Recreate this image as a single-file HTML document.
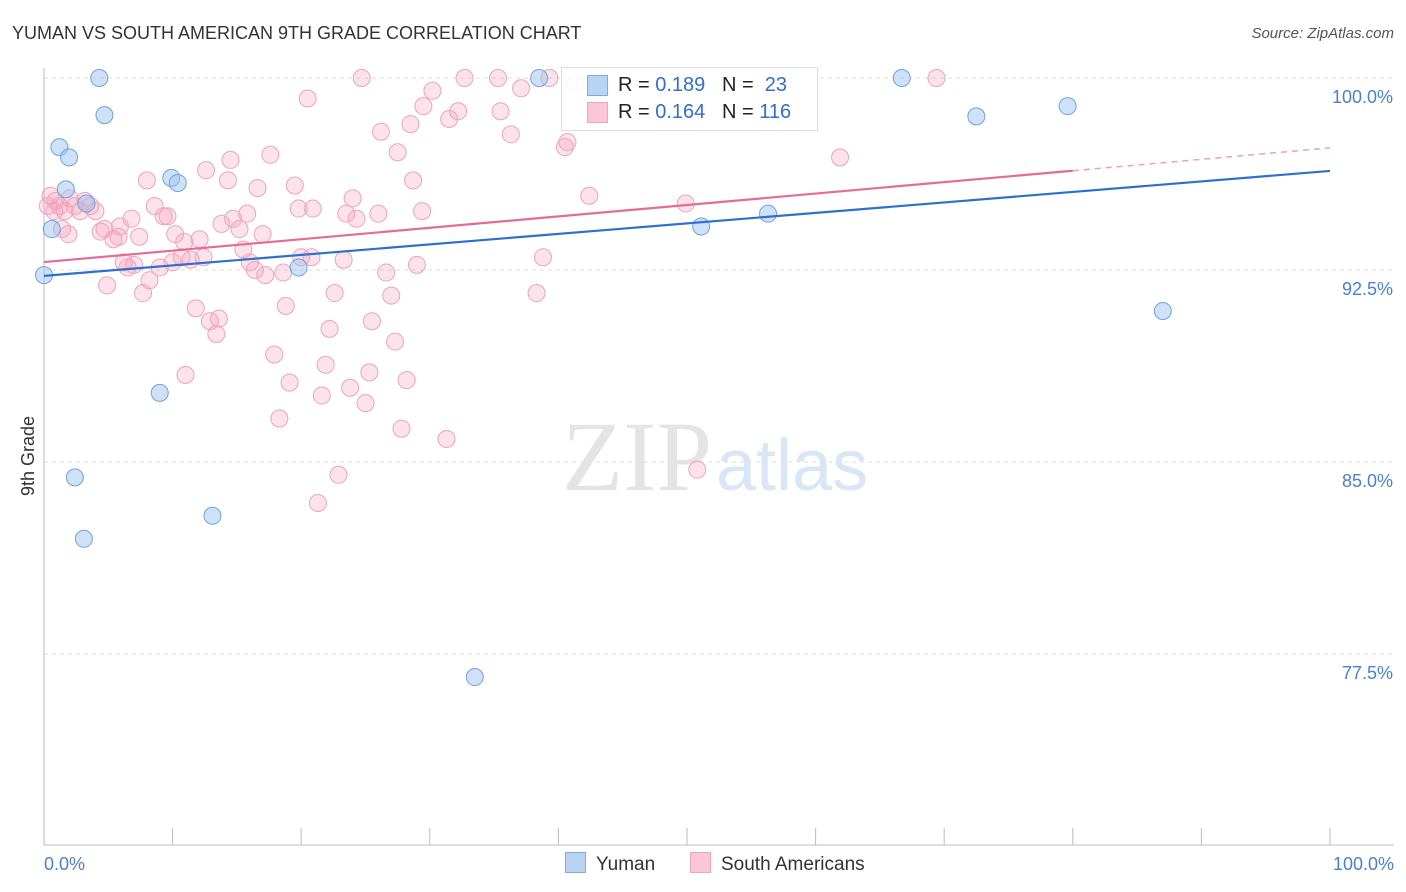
<!DOCTYPE html>
<html><head><meta charset="utf-8"><style>
body{margin:0;background:#fff;font-family:"Liberation Sans",sans-serif;}
#wrap{position:relative;width:1406px;height:892px;overflow:hidden;}
.t{position:absolute;white-space:nowrap;}
</style></head><body>
<div id="wrap">
<div class="t" style="left:12px;top:23px;font-size:18px;color:#333;">YUMAN VS SOUTH AMERICAN 9TH GRADE CORRELATION CHART</div>
<div class="t" style="right:12px;top:25px;font-size:15px;color:#555;font-style:italic;">Source: ZipAtlas.com</div>
<svg id="svg" width="1406" height="892" style="position:absolute;left:0;top:0"></svg>
</div>
<script>
const yumanX=[0,4.3,4.7,1.2,1.95,1.7,0.6,3.3,9.9,10.4,9.0,2.4,3.1,13.1,19.8,33.5,38.5,51.1,56.3,66.7,72.5,79.6,87.0];
const yumanY=[92.3,100,98.55,97.3,96.9,95.65,94.1,95.1,96.1,95.9,87.7,84.4,82.0,82.9,92.6,76.6,100,94.2,94.7,100,98.5,98.9,90.9];
const saX=[24.7,32.7,35.3,39.3,41.3,69.4,20.5,30.2,29.5,32.2,35.5,37.1,26.2,28.5,31.5,36.3,27.5,40.7,40.5,17.6,14.5,12.6,14.3,16.6,8.0,19.5,28.7,24.0,42.4,49.9,61.9,0.5,0.9,1.2,1.6,2.0,2.4,2.8,3.2,3.6,4.0,0.8,0.3,1.4,1.9,4.4,4.7,5.4,5.8,5.9,6.8,7.4,8.6,9.3,9.6,10.2,10.9,12.1,13.8,14.7,15.2,15.8,17.0,19.8,20.9,23.5,24.3,26.0,29.4,15.5,16.0,16.4,17.2,18.6,20.0,20.8,23.3,26.6,29.0,38.8,38.3,6.2,6.5,7.0,8.2,9.0,10.0,10.7,11.4,12.4,4.9,7.7,11.8,12.9,13.6,13.4,11.0,22.6,27.0,18.8,22.2,25.5,17.9,27.3,21.9,19.1,28.2,25.3,23.8,21.6,25.0,18.3,27.8,31.3,22.9,21.3,50.8];
const saY=[100,100,100,100,99.8,100,99.2,99.5,98.9,98.7,98.7,99.6,97.9,98.2,98.4,97.8,97.1,97.5,97.3,97.0,96.8,96.4,96.0,95.7,96.0,95.8,96.0,95.3,95.4,95.1,96.9,95.4,95.2,95.0,94.8,95.3,95.0,94.8,95.2,95.0,94.8,94.8,95.0,94.1,93.9,94.0,94.1,93.7,93.8,94.2,94.5,93.8,95.0,94.6,94.6,93.9,93.6,93.7,94.3,94.5,94.1,94.7,93.9,94.9,94.9,94.7,94.5,94.7,94.8,93.3,92.8,92.5,92.3,92.4,93.0,93.0,92.9,92.4,92.7,93.0,91.6,92.8,92.6,92.7,92.1,92.6,92.8,93.0,92.9,93.0,91.9,91.6,91.0,90.5,90.6,90.0,88.4,91.6,91.5,91.1,90.2,90.5,89.2,89.7,88.8,88.1,88.2,88.5,87.9,87.6,87.3,86.7,86.3,85.9,84.5,83.4,84.7];
const yumanFit=[92.27,96.37];
const saFit=[92.81,97.27];
const yTicks=[100,92.5,85,77.5];
const xTickVals=[0,10,20,30,40,50,60,70,80,90,100];
const NS='http://www.w3.org/2000/svg';
const svg=document.getElementById('svg');
const X=v=>44+v*12.86, Y=v=>78+(100-v)*25.6;
function mk(tag,a,p){const e=document.createElementNS(NS,tag);for(const k in a)e.setAttribute(k,a[k]);(p||svg).appendChild(e);return e;}
yTicks.forEach(v=>{const l=mk('line',{x1:44,x2:1394,y1:Y(v),y2:Y(v),stroke:'#ddd','stroke-dasharray':'4,4'});


const t=mk('text',{x:1393,y:Y(v)+25,'text-anchor':'end','font-size':18,fill:'#4a7fd4','font-family':'Liberation Sans'});t.textContent=v.toFixed(1)+'%';

});
mk('line',{x1:44,x2:44,y1:68,y2:845,stroke:'#bbb'});
mk('line',{x1:44,x2:1394,y1:845,y2:845,stroke:'#bbb'});
xTickVals.forEach(v=>{const l=mk('line',{x1:X(v),x2:X(v),y1:828,y2:845,stroke:'#bbb'});

});
[[0,'0.0%','start',44],[100,'100.0%','end',1394]].forEach(a=>{const t=mk('text',{x:a[3],y:870,'text-anchor':a[2],'font-size':18,fill:'#4a7fd4','font-family':'Liberation Sans'});t.textContent=a[1];

});
const yt=mk('text',{x:34,y:456,'text-anchor':'middle','font-size':18,fill:'#333',transform:'rotate(-90 34 456)','font-family':'Liberation Sans'});yt.textContent='9th Grade';


const w1=mk('text',{x:712,y:490,'text-anchor':'end','font-size':100,fill:'#e4e4e4','font-family':'Liberation Serif'});w1.textContent='ZIP';


const w2=mk('text',{x:716,y:490,'font-size':72,fill:'#d8e6f6','font-family':'Liberation Sans'});w2.textContent='atlas';


saX.forEach((x,i)=>{const c=mk('circle',{cx:X(x),cy:Y(saY[i]),r:8.5,fill:'rgba(244,160,190,0.3)',stroke:'#efa3bd','stroke-width':1});

});
yumanX.forEach((x,i)=>{const c=mk('circle',{cx:X(x),cy:Y(yumanY[i]),r:8.5,fill:'rgba(160,195,238,0.5)',stroke:'#6fa3df','stroke-width':1});

});
const bl=mk('line',{x1:X(0),y1:Y(yumanFit[0]),x2:X(100),y2:Y(yumanFit[1]),stroke:'#2f6fd0','stroke-width':2.2});


const sm=saFit[0]+(saFit[1]-saFit[0])*0.8;
const pl=mk('line',{x1:X(0),y1:Y(saFit[0]),x2:X(80),y2:Y(sm),stroke:'#e66a98','stroke-width':2.2});


const pd=mk('line',{x1:X(80),y1:Y(sm),x2:X(100),y2:Y(saFit[1]),stroke:'#e9a0bb','stroke-width':1.5,'stroke-dasharray':'6,5'});


</script>
<div class="t" style="left:561px;top:67px;width:255px;height:62px;border:1px solid #ddd;background:rgba(255,255,255,0.9);"></div>
<div class="t" style="left:587px;top:75px;width:19px;height:19px;background:#b9d3f3;border:1px solid #7aaee0;"></div>
<div class="t" style="left:587px;top:102px;width:19px;height:19px;background:#fbc6d6;border:1px solid #efa3bd;"></div>
<div class="t" style="left:618px;top:74px;font-size:20px;color:#222;">R = <span style="color:#2f6fd0">0.189</span>&nbsp;&nbsp;&nbsp;N = &nbsp;<span style="color:#2f6fd0">23</span></div>
<div class="t" style="left:618px;top:101px;font-size:20px;color:#222;">R = <span style="color:#2f6fd0">0.164</span>&nbsp;&nbsp;&nbsp;N = <span style="color:#2f6fd0">116</span></div>
<div class="t" style="left:565px;top:852px;font-size:19px;color:#333;"><span style="display:inline-block;width:19px;height:19px;background:#b9d3f3;border:1px solid #7aaee0;vertical-align:-3px;margin-right:10px;"></span>Yuman</div>
<div class="t" style="left:690px;top:852px;font-size:19px;color:#333;"><span style="display:inline-block;width:19px;height:19px;background:#fbc6d6;border:1px solid #efa3bd;vertical-align:-3px;margin-right:10px;"></span>South Americans</div>
</body></html>
